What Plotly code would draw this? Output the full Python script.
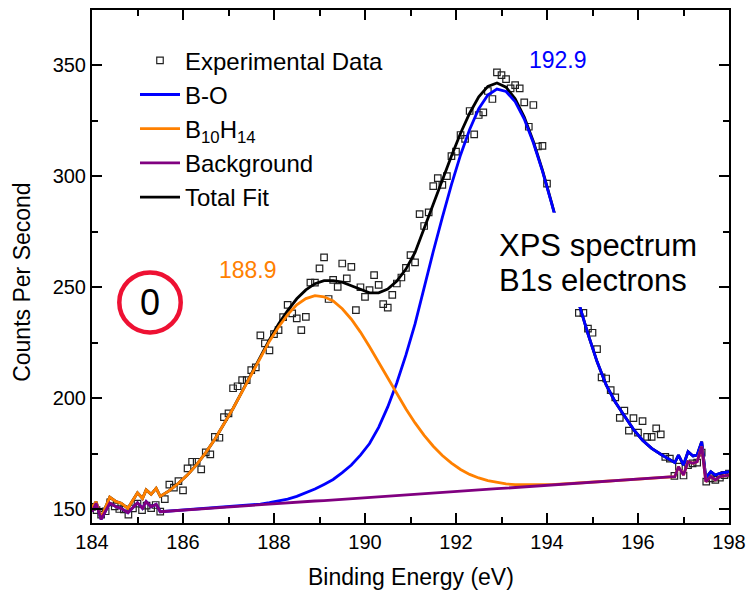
import plotly.graph_objects as go

# ---------------- data ----------------
DATA_X = [184.0, 184.1, 184.2, 184.3, 184.4, 184.5, 184.6, 184.7, 184.8, 184.9,
          185.0, 185.1, 185.2, 185.3, 185.4, 185.5, 185.6, 185.7, 185.8, 185.9,
          186.0, 186.1, 186.2, 186.3, 186.4, 186.5, 186.6, 186.7, 186.8, 186.9,
          187.0, 187.1, 187.2, 187.3, 187.4, 187.5, 187.6, 187.7, 187.8, 187.9,
          188.0, 188.1, 188.2, 188.3, 188.4, 188.5, 188.6, 188.7, 188.8, 188.9,
          189.0, 189.1, 189.2, 189.3, 189.4, 189.5, 189.6, 189.7, 189.8, 189.9,
          190.0, 190.1, 190.2, 190.3, 190.4, 190.5, 190.6, 190.7, 190.8, 190.9,
          191.0, 191.1, 191.2, 191.3, 191.4, 191.5, 191.6, 191.7, 191.8, 191.9,
          192.0, 192.1, 192.2, 192.3, 192.4, 192.5, 192.6, 192.7, 192.8, 192.9,
          193.0, 193.1, 193.2, 193.3, 193.4, 193.5, 193.6, 193.7, 193.8, 193.9,
          194.0, 194.1, 194.2, 194.3, 194.4, 194.5, 194.6, 194.7, 194.8, 194.9,
          195.0, 195.1, 195.2, 195.3, 195.4, 195.5, 195.6, 195.7, 195.8, 195.9,
          196.0, 196.1, 196.2, 196.3, 196.4, 196.5, 196.6, 196.7, 196.8, 196.9,
          197.0, 197.1, 197.2, 197.3, 197.4, 197.5, 197.6, 197.7, 197.8, 197.9,
          198.0]
DATA_Y = [151.0, 149.5, 147.5, 149.0, 153.0, 151.2, 150.0, 149.8, 147.5, 150.3,
          152.4, 149.5, 151.5, 150.4, 151.8, 148.8, 154.5, 161.0, 159.6, 162.6,
          158.4, 168.3, 171.3, 171.3, 167.9, 175.5, 174.6, 182.5, 182.1, 191.4,
          193.1, 204.4, 205.3, 208.1, 208.1, 212.6, 213.8, 228.2, 224.6, 221.5,
          228.8, 230.6, 236.4, 242.0, 238.1, 235.9, 230.6, 236.6, 252.0, 252.0,
          258.4, 263.4, 244.6, 253.2, 250.1, 260.6, 253.9, 259.1, 239.6, 249.9,
          245.6, 248.6, 255.4, 251.0, 242.3, 240.7, 246.5, 251.6, 254.3, 258.6,
          264.4, 261.1, 282.8, 277.5, 283.6, 295.5, 299.1, 296.0, 300.0, 309.0,
          311.0, 318.5, 316.7, 329.3, 318.8, 327.5, 328.7, 338.3, 334.7, 346.7,
          345.5, 343.7, 339.5, 341.0, 339.5, 333.2, 322.2, 332.0, 313.3, 313.6,
          296.6, 281.0, 276.0, 268.0, 263.0, 251.0, 246.0, 238.4, 238.4, 231.3,
          229.4, 222.0, 209.3, 208.8, 203.6, 200.3, 191.1, 194.3, 185.3, 190.9,
          184.4, 189.6, 182.5, 182.5, 186.3, 183.6, 173.5, 172.7, 164.9, 169.1,
          165.1, 169.8, 170.6, 170.9, 175.4, 162.3, 163.8, 163.1, 164.1, 165.3,
          166.0]

FIT_X = [184.0, 184.09, 184.2, 184.39, 184.53, 184.64, 184.79, 185.0, 185.11, 185.19,
         185.3, 185.41,
         185.5, 185.7, 185.9, 186.1, 186.3, 186.5, 186.7, 186.9, 187.1, 187.3,
         187.5, 187.7, 187.9, 188.1, 188.3, 188.5, 188.7, 188.9, 189.1, 189.3,
         189.5, 189.7, 189.9, 190.1, 190.3, 190.5, 190.7, 190.9, 191.1, 191.3,
         191.5, 191.7, 191.9, 192.1, 192.3, 192.5, 192.7, 192.9, 193.1, 193.3,
         193.5, 193.7, 193.9, 194.1, 194.3, 194.5, 194.7, 194.9, 195.1, 195.3,
         195.5, 195.7, 195.9, 196.1, 196.3, 196.5, 196.7,
         196.81, 196.89, 197.0, 197.1, 197.21, 197.3, 197.4, 197.49, 197.6, 197.7,
         197.8, 198.0]
BACKGROUND = [148.8, 152.6, 145.4, 152.6, 151.0, 150.3, 148.3, 152.8, 150.3, 153.3,
              151.0, 152.1,
              148.8, 149.1, 149.4, 149.6, 149.9, 150.2, 150.5, 150.8, 151.0, 151.3,
              151.6, 151.9, 152.2, 152.4, 152.7, 153.0, 153.3, 153.6, 153.8, 154.1,
              154.4, 154.7, 155.0, 155.2, 155.5, 155.8, 156.1, 156.4, 156.6, 156.9,
              157.2, 157.5, 157.8, 158.0, 158.3, 158.6, 158.9, 159.2, 159.4, 159.7,
              160.0, 160.3, 160.6, 160.8, 161.1, 161.4, 161.7, 162.0, 162.2, 162.5,
              162.8, 163.1, 163.4, 163.6, 163.9, 164.2, 164.5,
              164.6, 169.1, 165.3, 171.3, 170.6, 171.3, 178.1, 162.3, 164.6, 163.1,
              164.6, 165.3]
B10H14 = [150.5, 153.3, 146.0, 155.3, 153.3, 152.6, 150.3, 157.3, 154.8, 158.6,
          156.6, 159.3,
          155.7, 158.3, 161.6, 165.4, 170.0, 175.4, 181.4, 188.2, 195.3, 202.9,
          210.7, 218.3, 225.6, 232.0, 237.6, 242.0, 244.8, 246.1, 245.6, 243.7,
          240.2, 235.5, 229.7, 223.1, 216.1, 208.9, 201.9, 195.1, 188.8, 183.2,
          178.3, 174.1, 170.7, 167.8, 165.6, 164.0, 162.8, 161.9, 161.3, 161.0,
          160.9, 160.9, 161.0, 161.0, 161.2, 161.5, 161.7, 162.0, 162.2, 162.5,
          162.8, 163.1, 163.4, 163.6, 163.9, 164.2, 164.5,
          164.6, 169.1, 165.3, 171.3, 170.6, 171.3, 178.1, 162.3, 164.6, 163.1,
          164.6, 165.3]
B_O = [148.8, 152.6, 145.4, 152.6, 151.0, 150.3, 148.3, 152.8, 150.3, 153.3,
       151.0, 152.1,
       148.8, 149.1, 149.4, 149.6, 149.9, 150.2, 150.5, 150.8, 151.0, 151.4,
       151.8, 152.2, 152.9, 153.7, 154.5, 155.7, 157.2, 159.0, 161.1, 163.3,
       166.4, 169.8, 174.3, 179.5, 186.8, 196.0, 206.9, 219.4, 233.4, 250.3,
       266.0, 281.4, 296.1, 309.5, 321.0, 330.3, 336.5, 339.2, 338.1, 333.5,
       325.7, 315.0, 302.2, 287.8, 272.6, 257.4, 242.6, 228.9, 216.4, 205.9,
       198.2, 192.0, 185.9, 181.0, 177.3, 174.7, 172.3,
       170.9, 174.3, 169.8, 175.8, 173.9, 174.3, 180.3, 164.0, 166.8, 165.3,
       166.1, 166.8]
TOTAL_FIT = [150.5, 153.3, 146.0, 155.3, 153.3, 152.6, 150.3, 157.3, 154.8, 158.6,
             156.6, 159.3,
             155.7, 158.3, 161.6, 165.4, 170.0, 175.4, 181.4, 188.2, 195.3, 203.0,
             210.9, 218.6, 226.3, 233.3, 239.4, 244.7, 248.7, 251.5, 252.9, 252.9,
             252.2, 250.6, 249.0, 247.4, 247.4, 249.1, 252.7, 258.1, 265.6, 276.6,
             287.1, 298.0, 309.0, 319.3, 328.3, 335.7, 340.4, 341.9, 340.0, 334.8,
             326.6, 315.6, 302.6, 288.0, 272.7, 257.5, 242.6, 228.9, 216.4, 205.9,
             198.2, 192.0, 185.9, 181.0, 177.3, 174.7, 172.3,
             170.9, 174.3, 169.8, 175.8, 173.9, 174.3, 180.3, 164.0, 166.8, 165.3,
             166.1, 166.8]

PEAK_LABELS = ["188.9", "192.9"]
NOTE_LINES = ["XPS spectrum", "B1s electrons"]
X_TITLE = "Binding Energy (eV)"
Y_TITLE = "Counts Per Second"

FONT = "Liberation Sans, Arial, sans-serif"
BLUE = "#0000ff"
ORANGE = "#ff8000"
PURPLE = "#800080"
RED = "#ee1133"

fig = go.Figure()
fig.add_trace(go.Scatter(
    x=DATA_X, y=DATA_Y, mode="markers", name="Experimental Data", legendrank=1,
    marker=dict(symbol="square-open", size=6.5, color="#222222", line=dict(width=1.2))))
fig.add_trace(go.Scatter(x=FIT_X, y=TOTAL_FIT, mode="lines", name="Total Fit",
                         legendrank=5, line=dict(color="black", width=2.8)))
fig.add_trace(go.Scatter(x=FIT_X, y=B_O, mode="lines", name="B-O",
                         legendrank=2, line=dict(color=BLUE, width=2.8)))
fig.add_trace(go.Scatter(x=FIT_X, y=B10H14, mode="lines",
                         name="B<sub>10</sub>H<sub>14</sub>",
                         legendrank=3, line=dict(color=ORANGE, width=2.8)))
fig.add_trace(go.Scatter(x=FIT_X, y=BACKGROUND, mode="lines", name="Background",
                         legendrank=4, line=dict(color=PURPLE, width=2.8)))

axis_common = dict(showline=True, linecolor="black", linewidth=2, mirror="ticks",
                   ticks="inside", ticklen=10, tickwidth=1.5, tickcolor="black",
                   showgrid=False, zeroline=False, automargin=False,
                   tickfont=dict(family=FONT, size=20, color="black"))

fig.update_layout(
    width=747, height=592,
    margin=dict(l=92, r=18, t=10, b=69, autoexpand=False),
    paper_bgcolor="white", plot_bgcolor="white",
    font=dict(family=FONT, color="black"),
    xaxis=dict(range=[184, 198], tick0=184, dtick=2,
               minor=dict(dtick=1, ticks="inside", ticklen=6, tickwidth=1.5,
                          tickcolor="black", showgrid=False),
               **axis_common),
    yaxis=dict(range=[143.7, 374.8], tick0=150, dtick=50,
               minor=dict(dtick=25, ticks="inside", ticklen=6, tickwidth=1.5,
                          tickcolor="black", showgrid=False),
               **axis_common),
    legend=dict(x=0.0675, y=0.945, xanchor="left", yanchor="top",
                bgcolor="rgba(0,0,0,0)", borderwidth=0,
                font=dict(family=FONT, size=24, color="black"),
                itemwidth=40),
    showlegend=True,
)

# axis titles
fig.add_annotation(x=0.5, y=-0.105, xref="paper", yref="paper", text=X_TITLE,
                   showarrow=False, xanchor="center", yanchor="middle",
                   font=dict(family=FONT, size=23, color="black"))
fig.add_annotation(x=-0.11, y=0.47, xref="paper", yref="paper", text=Y_TITLE,
                   showarrow=False, xanchor="center", yanchor="middle", textangle=-90,
                   font=dict(family=FONT, size=23, color="black"))

# white box behind the note text (hides the curves, as in the reference)
fig.add_shape(type="rect", xref="x", yref="y", x0=192.75, x1=197.5, y0=241.0, y1=283.5,
              fillcolor="white", line=dict(width=0), layer="above")
fig.add_annotation(x=192.9, y=268.7, xref="x", yref="y", text=NOTE_LINES[0],
                   showarrow=False, xanchor="left", yanchor="middle",
                   font=dict(family=FONT, size=31, color="black"))
fig.add_annotation(x=192.9, y=253.0, xref="x", yref="y", text=NOTE_LINES[1],
                   showarrow=False, xanchor="left", yanchor="middle",
                   font=dict(family=FONT, size=31, color="black"))

fig.add_annotation(x=187.43, y=257.7, xref="x", yref="y", text=PEAK_LABELS[0],
                   showarrow=False, font=dict(family=FONT, size=23, color=ORANGE))
fig.add_annotation(x=194.24, y=352.3, xref="x", yref="y", text=PEAK_LABELS[1],
                   showarrow=False, font=dict(family=FONT, size=23, color=BLUE))

# red circle with "0"
fig.add_shape(type="circle", xref="x", yref="y", x0=184.60, x1=185.95,
              y0=229.5, y1=256.6, line=dict(color=RED, width=4.5), layer="above")
fig.add_annotation(x=185.275, y=243.0, xref="x", yref="y", text="0", showarrow=False,
                   font=dict(family=FONT, size=36, color="black"))

# remove the page's default body margin so the 747x592 figure fills the window
fig.write_html("out.html",
               config={"displayModeBar": False},
               post_script="document.body.style.margin='0px';"
                           "document.documentElement.style.overflow='hidden';")
